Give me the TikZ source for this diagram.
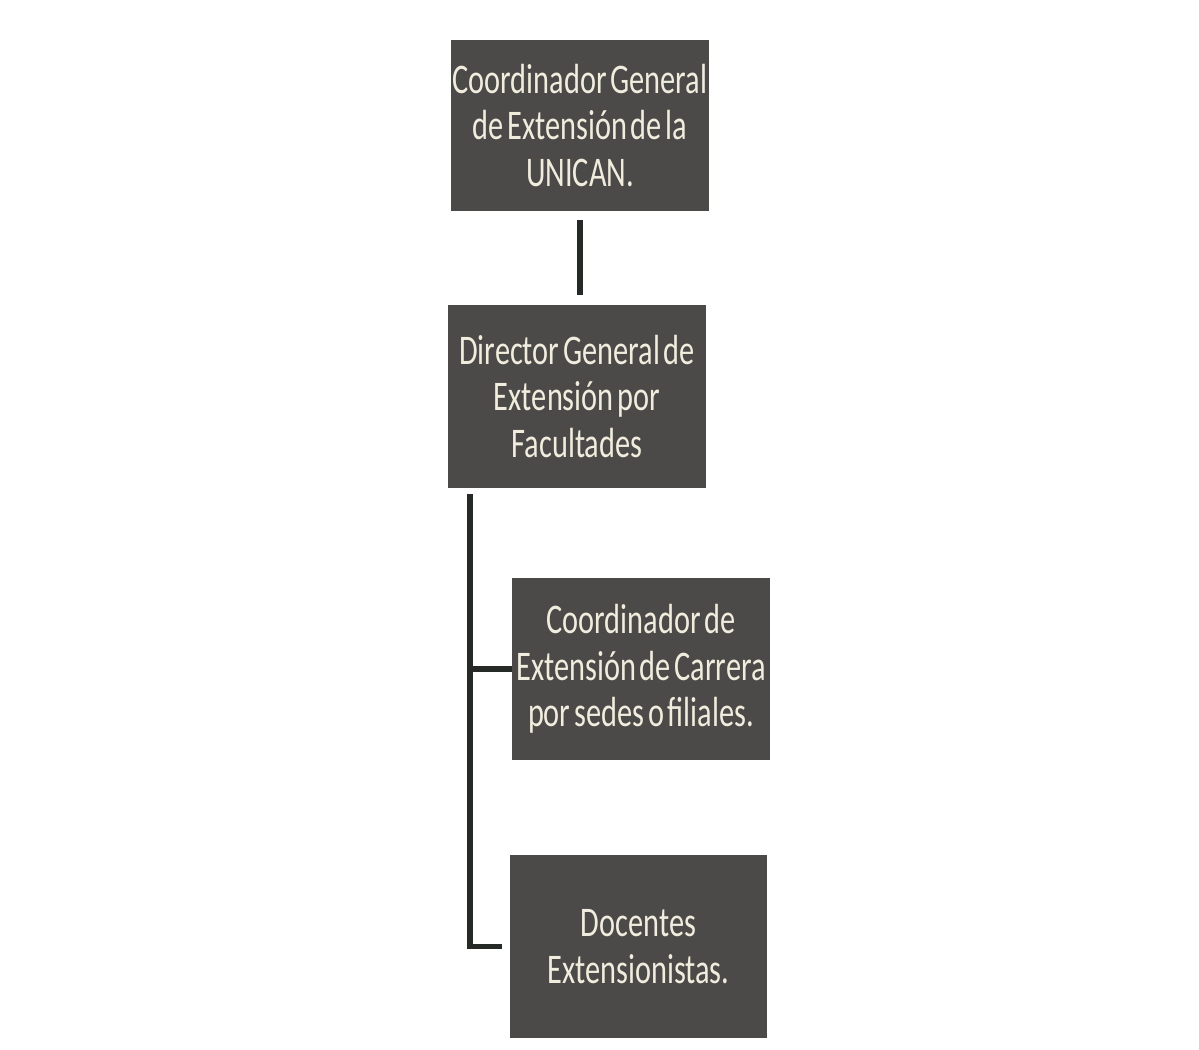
\documentclass[tikz,border=0pt]{standalone}
\usepackage{fontspec}
\setmainfont{Carlito}[FakeStretch=0.72,WordSpace=0.55]
\definecolor{cajagris}{RGB}{76,74,72}
\definecolor{letraclara}{RGB}{240,236,222}
\definecolor{lineaoscura}{RGB}{38,42,38}
\begin{document}
\begin{tikzpicture}[x=0.02cm,y=-0.02cm,
  caja/.style={fill=cajagris,text=letraclara,align=center,inner sep=0pt,
    minimum width=5.16cm,minimum height=3.66cm,
    font=\fontsize{24}{26.6}\selectfont},
  linea/.style={lineaoscura,line width=3pt,line join=miter}]
\useasboundingbox (0,0) rectangle (1199,1050);

% Cajas del organigrama
\node[caja,minimum height=3.42cm] (coordgral) at (580,125.5) {Coordinador General\\de Extensión de la\\UNICAN.};
\node[caja] (director) at (577,396.5) {Director General de\\Extensión por\\Facultades};
\node[caja] (coordcarrera) at (641,669) {Coordinador de\\Extensión de Carrera\\por sedes o filiales.};
\node[caja] (docentes) at (638.5,946.5) {Docentes\\Extensionistas.};

% Conectores
\draw[linea,shorten <=0.18cm,shorten >=0.2cm] (coordgral.south) -- (coordgral.south |- director.north);
\coordinate (arranque) at ([xshift=-2.14cm,yshift=-0.12cm]director.south);
\draw[linea,shorten >=0.14cm] (arranque) |- (docentes.west);
\draw[linea] (arranque |- coordcarrera.west) -- (coordcarrera.west);
\end{tikzpicture}
\end{document}
